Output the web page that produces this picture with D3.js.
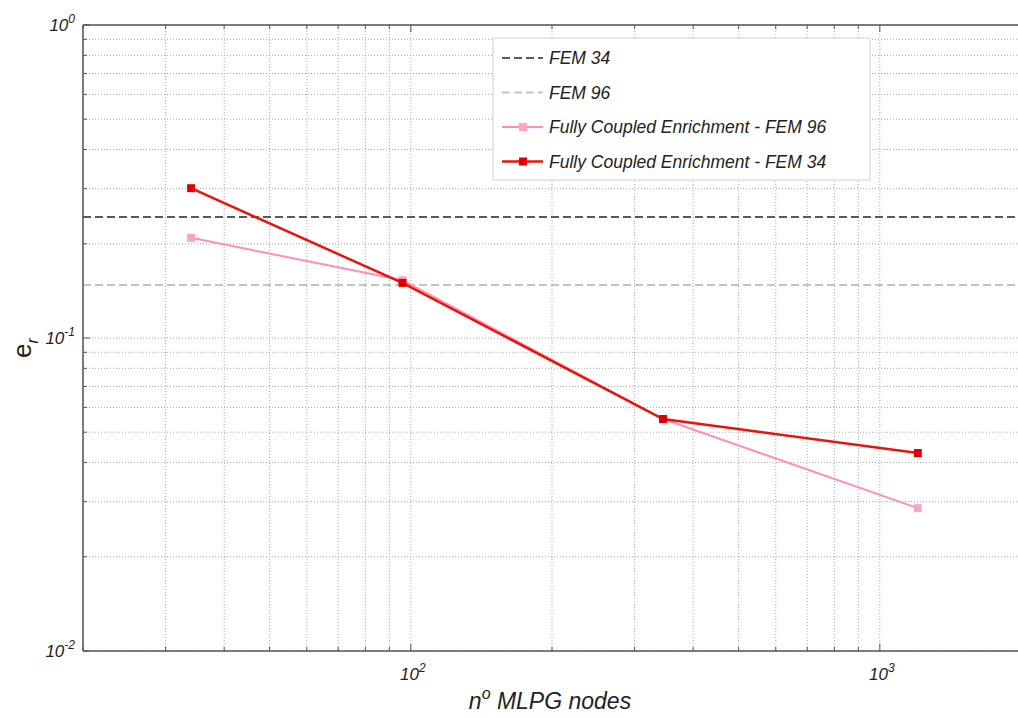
<!DOCTYPE html>
<html>
<head>
<meta charset="utf-8">
<script src="https://cdn.jsdelivr.net/npm/d3@7"></script>
<style>
  body { margin: 0; background: #fff; }
  text { font-family: "Liberation Sans", Arial, sans-serif; }
</style>
</head>
<body>
<div id="vis"></div>
<script>
// data
const nodes = [34, 96, 345, 1205];
const fem34 = 0.2436;
const fem96 = 0.1477;
const coupled96 = [0.209, 0.153, 0.0551, 0.0286];
const coupled34 = [0.301, 0.150, 0.0551, 0.0429];
const legendLabels = ["FEM 34", "FEM 96", "Fully Coupled Enrichment - FEM 96", "Fully Coupled Enrichment - FEM 34"];

const width = 1018;
const height = 718;
const margin = { left: 83, top: 25, right: -3, bottom: 67 };

const svg = d3.select("#vis").append("svg")
  .attr("width", width)
  .attr("height", height);

const x = d3.scaleLog().domain([20, 2000]).range([margin.left, width - margin.right]);
const y = d3.scaleLog().domain([0.01, 1]).range([height - margin.bottom, margin.top]);

// all ticks per decade
const xTicks = [];
[10, 100, 1000].forEach(d => { for (let k = 1; k < 10; k++) { const v = d * k; if (v >= 20 && v <= 2000) xTicks.push(v); } });
const yTicks = [];
[0.01, 0.1].forEach(d => { for (let k = 1; k < 10; k++) yTicks.push(d * k); });
yTicks.push(1);

// grid
const grid = svg.append("g");
grid.selectAll(".gx").data(xTicks).enter().append("line")
  .attr("x1", d => x(d)).attr("x2", d => x(d))
  .attr("y1", y(1)).attr("y2", y(0.01))
  .attr("stroke", "#a8a8a8").attr("stroke-width", 1)
  .attr("stroke-dasharray", "1,2");
grid.selectAll(".gy").data(yTicks).enter().append("line")
  .attr("x1", x(20)).attr("x2", x(2000))
  .attr("y1", d => y(d)).attr("y2", d => y(d))
  .attr("stroke", "#a8a8a8").attr("stroke-width", 1)
  .attr("stroke-dasharray", "1,2");

// reference FEM lines
svg.append("line")
  .attr("x1", x(20)).attr("x2", x(2000))
  .attr("y1", y(fem34)).attr("y2", y(fem34))
  .attr("stroke", "#5a5a5a").attr("stroke-width", 2)
  .attr("stroke-dasharray", "8,4");
svg.append("line")
  .attr("x1", x(20)).attr("x2", x(2000))
  .attr("y1", y(fem96)).attr("y2", y(fem96))
  .attr("stroke", "#c4c4c4").attr("stroke-width", 2)
  .attr("stroke-dasharray", "8,4");

// series
const line = d3.line().x(d => x(d[0])).y(d => y(d[1]));
const series = [
  { vals: coupled96, color: "#ff8fb6", mark: "#ffa3c4", w: 2 },
  { vals: coupled34, color: "#e8140c", mark: "#e00000", w: 2.5 }
];
series.forEach(s => {
  const pts = nodes.map((n, i) => [n, s.vals[i]]);
  svg.append("path").datum(pts)
    .attr("d", line).attr("fill", "none")
    .attr("stroke", s.color).attr("stroke-width", s.w);
  svg.selectAll(null).data(pts).enter().append("rect")
    .attr("x", d => x(d[0]) - 4).attr("y", d => y(d[1]) - 4)
    .attr("width", 8).attr("height", 8)
    .attr("fill", s.mark);
});

// axes box
const axisColor = "#555";
svg.append("line").attr("x1", x(20)).attr("x2", x(20)).attr("y1", y(1)).attr("y2", y(0.01)).attr("stroke", axisColor).attr("stroke-width", 1.5);
svg.append("line").attr("x1", x(20)).attr("x2", x(2000)).attr("y1", y(0.01)).attr("y2", y(0.01)).attr("stroke", axisColor).attr("stroke-width", 1.5);
svg.append("line").attr("x1", x(20)).attr("x2", x(2000)).attr("y1", y(1)).attr("y2", y(1)).attr("stroke", axisColor).attr("stroke-width", 1.5);
svg.append("line").attr("x1", x(2000)).attr("x2", x(2000)).attr("y1", y(1)).attr("y2", y(0.01)).attr("stroke", axisColor).attr("stroke-width", 1.5);

// inward ticks
const isMajor = v => Math.abs(Math.log10(v) - Math.round(Math.log10(v))) < 1e-9;
svg.selectAll(".tx").data(xTicks).enter().append("line")
  .attr("x1", d => x(d)).attr("x2", d => x(d))
  .attr("y1", y(0.01)).attr("y2", d => y(0.01) - (isMajor(d) ? 7 : 4))
  .attr("stroke", axisColor);
svg.selectAll(".txt").data(xTicks).enter().append("line")
  .attr("x1", d => x(d)).attr("x2", d => x(d))
  .attr("y1", y(1)).attr("y2", d => y(1) + (isMajor(d) ? 7 : 4))
  .attr("stroke", axisColor);
svg.selectAll(".ty").data(yTicks).enter().append("line")
  .attr("x1", x(20)).attr("x2", d => x(20) + (isMajor(d) ? 7 : 4))
  .attr("y1", d => y(d)).attr("y2", d => y(d))
  .attr("stroke", axisColor);

// tick labels
function powLabel(g, base, exp, px, py, anchor) {
  const t = g.append("text").attr("x", px).attr("y", py)
    .attr("text-anchor", anchor).attr("font-style", "italic")
    .attr("font-size", 17).attr("fill", "#222");
  t.append("tspan").text(base);
  t.append("tspan").attr("dy", -8).attr("font-size", 12).text(exp);
}
const labels = svg.append("g");
[[1, "0"], [0.1, "-1"], [0.01, "-2"]].forEach(d => {
  powLabel(labels, "10", d[1], x(20) - 8, y(d[0]) + 6, "end");
});
[[100, "2"], [1000, "3"]].forEach(d => {
  powLabel(labels, "10", d[1], x(d[0]) + 2, y(0.01) + 29, "middle");
});

// axis titles
const xt = svg.append("text")
  .attr("x", 550).attr("y", 709).attr("text-anchor", "middle")
  .attr("font-style", "italic").attr("font-size", 23).attr("fill", "#222");
xt.append("tspan").text("n");
xt.append("tspan").attr("dy", -10).attr("font-size", 16).text("o");
xt.append("tspan").attr("dy", 10).text(" MLPG nodes");

const yt = svg.append("text")
  .attr("transform", `translate(31, ${y(0.1) + 10}) rotate(-90)`)
  .attr("text-anchor", "middle").attr("font-size", 26).attr("fill", "#222");
yt.append("tspan").text("e");
yt.append("tspan").attr("dy", 7).attr("font-size", 16).attr("font-style", "italic").text("r");

// legend
const lg = svg.append("g").attr("transform", "translate(493, 38)");
lg.append("rect").attr("width", 377).attr("height", 142)
  .attr("fill", "#fff").attr("stroke", "#d0d0d0");
const legendStyles = [
  { color: "#5a5a5a", dash: "8,4", mark: null, w: 2 },
  { color: "#c4c4c4", dash: "8,4", mark: null, w: 2 },
  { color: "#ff8fb6", dash: null, mark: "#ffa3c4", w: 2 },
  { color: "#e8140c", dash: null, mark: "#e00000", w: 2.5 }
];
legendLabels.forEach((name, i) => {
  const row = lg.append("g").attr("transform", `translate(0, ${20 + i * 34.5})`);
  const st = legendStyles[i];
  row.append("line").attr("x1", 9).attr("x2", 50).attr("y1", 0).attr("y2", 0)
    .attr("stroke", st.color).attr("stroke-width", st.w)
    .attr("stroke-dasharray", st.dash);
  if (st.mark) {
    row.append("rect").attr("x", 26).attr("y", -4).attr("width", 8).attr("height", 8).attr("fill", st.mark);
  }
  row.append("text").attr("x", 56).attr("y", 6)
    .attr("font-style", "italic").attr("font-size", 17.5).attr("fill", "#222")
    .text(name);
});
</script>
</body>
</html>
